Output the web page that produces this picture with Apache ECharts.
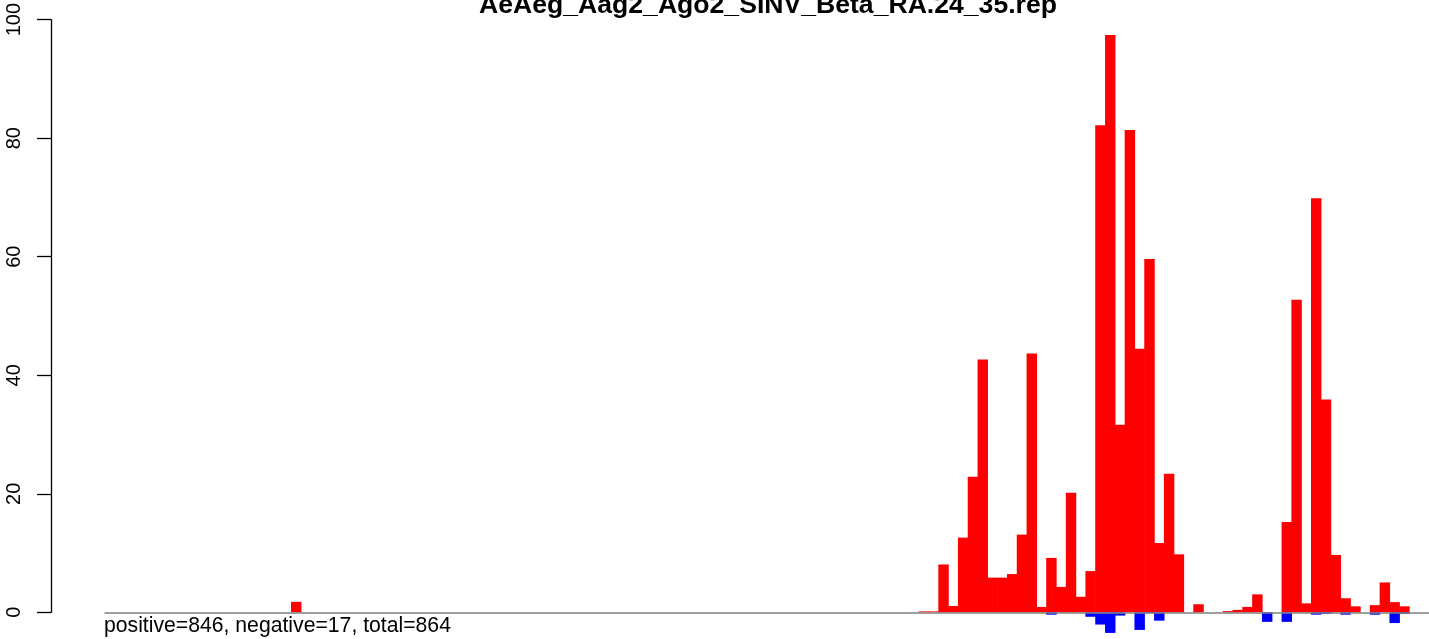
<!DOCTYPE html>
<html>
<head>
<meta charset="utf-8">
<script src="https://cdn.jsdelivr.net/npm/echarts@6/dist/echarts.min.js"></script>
<style>
html, body { margin: 0; padding: 0; background: #fff; }
#chart { width: 1429px; height: 639px; }
</style>
</head>
<body>
<div id="chart"></div>
<script>
// bins along the genome (bar slots), with the read counts found in each
var nBins = 135;
var bins = [19,
    83, 84, 85, 86, 87, 88, 89, 90, 91, 92, 93, 94, 95, 96, 97, 98, 99, 100, 101, 102,
    103, 104, 105, 106, 107, 108, 109, 110, 111, 112, 113, 114, 115, 116, 117, 118, 119, 120, 121, 122,
    123, 124, 125, 126, 127, 128, 129, 130, 131, 132];
var positive = [1.75,
    0.15, 0.15, 8, 1.05, 12.5, 22.7, 42.3, 5.8, 5.8, 6.4, 13, 43.3, 0.9, 9.1, 4.25, 20, 2.6, 6.9, 81.5, 96.6,
    31.4, 80.7, 44.1, 59.1, 11.6, 23.2, 9.7, 0, 1.35, 0, 0, 0.2, 0.4, 0.9, 3, 0, 0, 15.1, 52.3, 1.5,
    69.3, 35.6, 9.6, 2.35, 1, 0, 1.2, 5, 1.7, 1];
var negative = [0,
    0, 0, 0, 0, 0, 0, 0, 0, 0, 0, 0, 0, 0, -0.4, 0, 0, 0, -0.75, -2.05, -3.45,
    -0.55, 0, -2.95, -0.15, -1.4, 0, 0, 0, 0, 0, 0, 0, 0, 0, 0, -1.6, 0, -1.6, 0, 0,
    -0.4, -0.25, 0, -0.4, 0, 0, -0.4, 0, -1.8, -0.25];
var yTicks = [0, 20, 40, 60, 80, 100];
var title = "AeAeg_Aag2_Ago2_SINV_Beta_RA.24_35.rep";

var cats = [];
var posData = [];
var negData = [];
for (var i = 0; i < nBins; i++) {
    cats.push(i);
    posData.push('-');
    negData.push('-');
}
for (var j = 0; j < bins.length; j++) {
    if (positive[j] > 0) posData[bins[j]] = positive[j];
    if (negative[j] < 0) negData[bins[j]] = negative[j];
}
var posSum = 846, negSum = 17;  // as printed under the plot

var font = '"Liberation Sans", Arial, Helvetica, sans-serif';
var pxPerUnit = 5.976;
var top0 = 14.7;
var slot = 9.84;

var option = {
    animation: false,
    backgroundColor: '#ffffff',
    grid: [
        {left: 51, top: top0, width: 1, height: 100 * pxPerUnit},          // the y axis only
        {left: 105, top: top0, width: nBins * slot, height: 104 * pxPerUnit}  // bars
    ],
    xAxis: [
        {type: 'value', gridIndex: 0, show: false},
        {
            type: 'category', gridIndex: 1, data: cats, z: 3,
            axisLine: {onZero: true, lineStyle: {color: '#808080', width: 1.5}},
            axisTick: {show: false},
            axisLabel: {show: false},
            splitLine: {show: false}
        }
    ],
    yAxis: [
        {
            type: 'value', gridIndex: 0, min: 0, max: 100, interval: 20,
            axisLine: {show: true, lineStyle: {color: '#000', width: 1.3}},
            axisTick: {show: true, length: 14, lineStyle: {color: '#000', width: 1.3}},
            axisLabel: {
                rotate: 90, margin: 27, color: '#000', fontSize: 20, fontFamily: font,
                formatter: function (v) { return yTicks.indexOf(v) >= 0 ? String(v) : ''; }
            },
            splitLine: {show: false}
        },
        {type: 'value', gridIndex: 1, min: -4, max: 100, show: false, splitLine: {show: false}}
    ],
    series: [
        {
            name: 'positive', type: 'bar', xAxisIndex: 1, yAxisIndex: 1,
            data: posData, barWidth: slot + 0.6, barGap: '-100%',
            itemStyle: {color: '#ff0000'}
        },
        {
            name: 'negative', type: 'bar', xAxisIndex: 1, yAxisIndex: 1,
            data: negData, barWidth: slot + 0.6, barGap: '-100%',
            itemStyle: {color: '#0000ff'}
        }
    ],
    graphic: [
        {
            type: 'text', x: 768, y: 6,
            style: {
                text: title, fill: '#000', font: 'bold 26.6px ' + font,
                textAlign: 'center', textVerticalAlign: 'middle'
            }
        },
        {
            type: 'text', x: 104, y: 626,
            style: {
                text: 'positive=' + posSum + ', negative=' + negSum + ', total=' + (posSum + negSum + 1),
                fill: '#000', font: '21.2px ' + font,
                textAlign: 'left', textVerticalAlign: 'middle'
            }
        }
    ]
};

var chart = echarts.init(document.getElementById('chart'));
chart.setOption(option);
</script>
</body>
</html>
